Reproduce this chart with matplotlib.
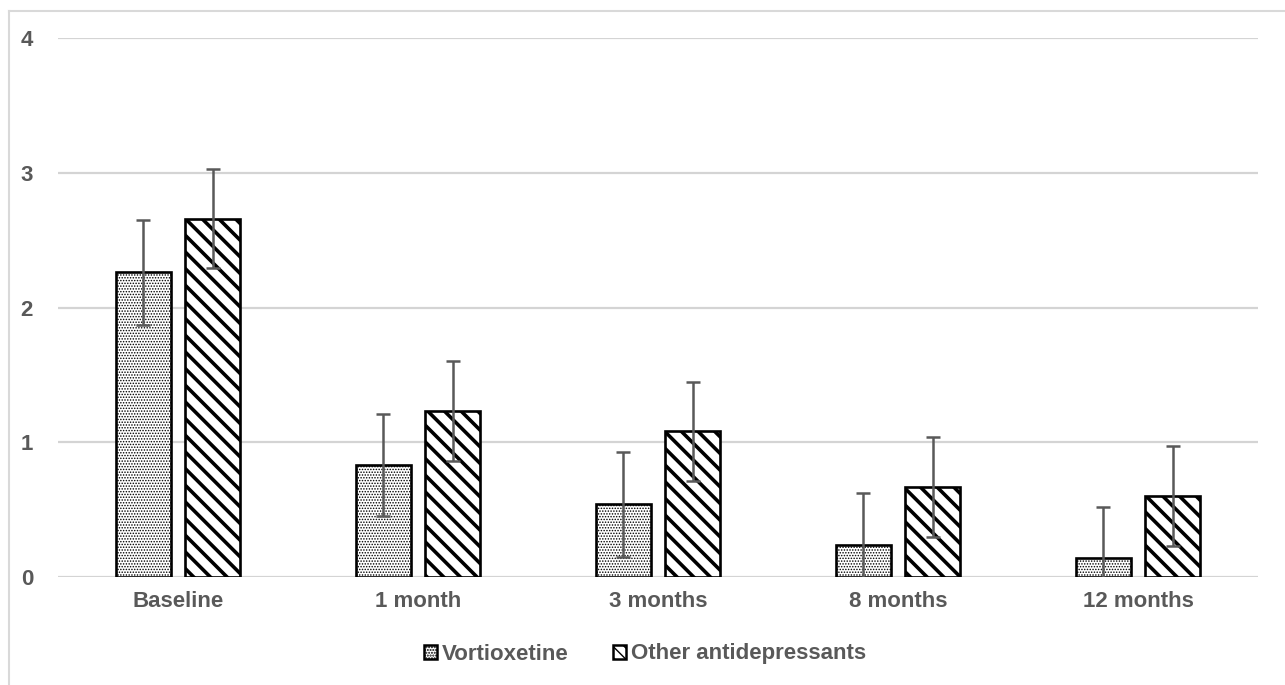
import matplotlib
matplotlib.use("Agg")
import matplotlib.pyplot as plt
from matplotlib.patches import Patch
from matplotlib.lines import Line2D
import numpy as np

categories = ["Baseline", "1 month", "3 months", "8 months", "12 months"]
vortioxetine = [2.26, 0.83, 0.54, 0.24, 0.14]
vortioxetine_err = [0.39, 0.38, 0.39, 0.38, 0.38]
other = [2.66, 1.23, 1.08, 0.67, 0.60]
other_err = [0.37, 0.37, 0.37, 0.37, 0.37]
series_names = ["Vortioxetine", "Other antidepressants"]
yticks = [0, 1, 2, 3, 4]

plt.rcParams['font.family'] = ['Liberation Sans', 'DejaVu Sans']
txt = '#595959'

fig = plt.figure(figsize=(12.85, 6.85), dpi=100)
ax = fig.add_axes([58/1285, 108/685, 1200/1285, 539/685])

x = np.arange(len(categories))
w = 0.23
off = 0.144

with plt.rc_context({'hatch.linewidth': 0.7, 'hatch.color': 'black'}):
    b1 = ax.bar(x - off, vortioxetine, w, color='white', edgecolor='black',
                linewidth=1.9, hatch='......', zorder=3)
with plt.rc_context({'hatch.linewidth': 2.6, 'hatch.color': 'black'}):
    b2 = ax.bar(x + off, other, w, color='white', edgecolor='black',
                linewidth=1.9, hatch='\\\\', zorder=3)

ax.errorbar(x - off, vortioxetine, yerr=vortioxetine_err, fmt='none',
            ecolor='#595959', elinewidth=1.8, capsize=5, capthick=1.8, zorder=4)
ax.errorbar(x + off, other, yerr=other_err, fmt='none',
            ecolor='#595959', elinewidth=1.8, capsize=5, capthick=1.8, zorder=4)

ax.set_xlim(-0.5, len(categories) - 0.5)
ax.set_ylim(0, 4)
ax.set_yticks(yticks)
ax.set_yticklabels([str(t) for t in yticks])
ax.set_xticks(x)
ax.set_xticklabels(categories)
ax.tick_params(axis='both', length=0, labelsize=16, labelcolor=txt)
ax.tick_params(axis='y', pad=18)
ax.tick_params(axis='x', pad=10)
for lab in ax.get_xticklabels() + ax.get_yticklabels():
    lab.set_fontweight('bold')
ax.grid(axis='y', color='#d4d4d4', linewidth=1.6, zorder=0)
ax.set_axisbelow(True)
for s in ax.spines.values():
    s.set_visible(False)

with plt.rc_context({'hatch.linewidth': 1.0}):
    h1 = Patch(facecolor='white', edgecolor='black', hatch='......', linewidth=1.8)
with plt.rc_context({'hatch.linewidth': 2.0}):
    h2 = Patch(facecolor='white', edgecolor='black', hatch='\\\\\\', linewidth=1.8)
leg = fig.legend([h1, h2], series_names, loc='center', bbox_to_anchor=(645/1285, 1 - 654/685),
                 ncol=2, frameon=False, handlelength=0.6, handleheight=0.6,
                 handletextpad=0.2, columnspacing=2.0,
                 prop={'size': 16, 'weight': 'bold'})
for t in leg.get_texts():
    t.set_color(txt)

# figure border (left and top visible)
fig.add_artist(Line2D([9/1285, 9/1285], [0, 1 - 11/685], transform=fig.transFigure,
                      color='#d9d9d9', linewidth=1.5))
fig.add_artist(Line2D([9/1285, 1], [1 - 11/685, 1 - 11/685], transform=fig.transFigure,
                      color='#d9d9d9', linewidth=1.5))

fig.savefig('out.png', dpi=100, facecolor='white')
